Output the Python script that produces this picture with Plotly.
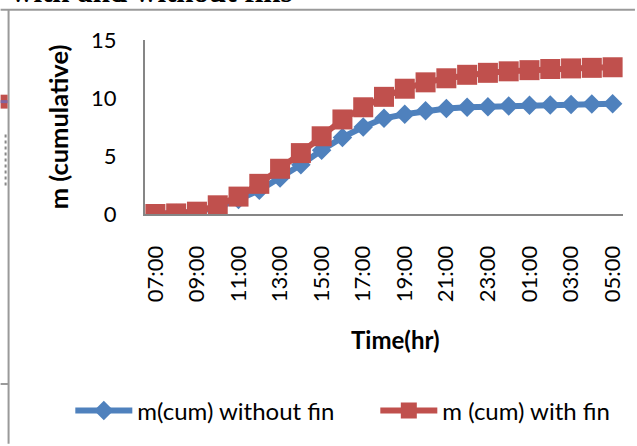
import plotly.graph_objects as go

# ---- data ----
time_labels = ["07:00", "08:00", "09:00", "10:00", "11:00", "12:00", "13:00", "14:00",
               "15:00", "16:00", "17:00", "18:00", "19:00", "20:00", "21:00", "22:00",
               "23:00", "00:00", "01:00", "02:00", "03:00", "04:00", "05:00"]
m_without_fin = [0.0, 0.05, 0.2, 0.6, 1.25, 2.05, 3.1, 4.25, 5.5, 6.6, 7.5, 8.25,
                 8.6, 8.9, 9.1, 9.2, 9.25, 9.3, 9.37, 9.4, 9.45, 9.48, 9.5]
m_with_fin = [0.0, 0.05, 0.2, 0.75, 1.5, 2.6, 3.9, 5.25, 6.7, 8.15, 9.2, 10.1,
              10.8, 11.35, 11.7, 12.0, 12.17, 12.3, 12.4, 12.5, 12.55, 12.6, 12.65]
tick_labels = time_labels[::2]
y_ticks = [0, 5, 10, 15]

# ---- layout geometry (pixels) ----
W, H = 637, 446
L, R, T, B = 145, 12, 40, 231
PW, PH = W - L - R, H - T - B
BOTTOM = T + PH


def px_x(px):
    return (px - L) / PW


def px_y(py):
    return (BOTTOM - py) / PH


BLUE = "#4F81BD"
RED = "#C0504D"
AXIS = "#868686"
FONT = "Lato"

fig = go.Figure()
fig.add_trace(go.Scatter(
    x=time_labels, y=m_without_fin, name="m(cum) without fin",
    mode="lines+markers",
    line=dict(color=BLUE, width=6),
    marker=dict(symbol="diamond", size=15, color=BLUE),
    legendwidth=233,
))
fig.add_trace(go.Scatter(
    x=time_labels, y=m_with_fin, name="m (cum) with fin",
    mode="lines+markers",
    line=dict(color=RED, width=6),
    marker=dict(symbol="square", size=20, color=RED),
))

fig.update_layout(
    width=W, height=H, autosize=False,
    margin=dict(l=L, r=R, t=T, b=B, pad=0),
    paper_bgcolor="white", plot_bgcolor="white",
    font=dict(family=FONT, color="black"),
    showlegend=True,
    legend=dict(
        orientation="h", x=px_x(70), xanchor="left", y=px_y(413), yanchor="middle",
        font=dict(family=FONT, size=24, color="black"),
        itemwidth=57, bgcolor="rgba(0,0,0,0)",
    ),
    xaxis=dict(
        type="category", range=[-0.5, len(time_labels) - 0.5],
        tickmode="array", tickvals=tick_labels, ticktext=tick_labels,
        tickangle=-90, tickfont=dict(family=FONT, size=22, color="black"),
        showline=True, linecolor=AXIS, linewidth=2, showgrid=False, zeroline=False,
        ticks="", ticklabelstandoff=21,
    ),
    yaxis=dict(
        range=[0, 15], tickvals=y_ticks,
        tickfont=dict(family=FONT, size=22, color="black"),
        showline=True, linecolor=AXIS, linewidth=2, showgrid=False, zeroline=False,
        ticks="", ticklabelstandoff=22,
    ),
    annotations=[
        dict(text="m (cumulative)", xref="paper", yref="paper", x=px_x(58), y=0.5,
             xanchor="center", yanchor="middle", textangle=-90, showarrow=False,
             font=dict(family=FONT, size=25.5, color="black", weight="bold")),
        dict(text="Time(hr)", xref="paper", yref="paper", x=px_x(397), y=px_y(341),
             xanchor="center", yanchor="middle", showarrow=False,
             font=dict(family=FONT, size=24, color="black", weight="bold")),
        dict(text="with and without fins", xref="paper", yref="paper",
             x=px_x(8), y=px_y(11), xanchor="left", yanchor="bottom", showarrow=False,
             font=dict(family="Liberation Serif", size=31, color="black", weight="bold")),
    ],
    shapes=[
        dict(type="line", xref="paper", yref="paper", x0=px_x(0), x1=px_x(W),
             y0=px_y(9.5), y1=px_y(9.5), line=dict(color="#9a9a9a", width=2)),
        dict(type="line", xref="paper", yref="paper", x0=px_x(8), x1=px_x(8),
             y0=px_y(9.5), y1=px_y(H), line=dict(color="#9a9a9a", width=2)),
        dict(type="line", xref="paper", yref="paper", x0=px_x(0), x1=px_x(8),
             y0=px_y(386), y1=px_y(386), line=dict(color="#9a9a9a", width=2)),
        dict(type="rect", xref="paper", yref="paper", x0=px_x(0), x1=px_x(7),
             y0=px_y(109), y1=px_y(95), fillcolor=RED, line=dict(width=0)),
        dict(type="line", xref="paper", yref="paper", x0=px_x(0), x1=px_x(7),
             y0=px_y(102), y1=px_y(102), line=dict(color="#8064A2", width=3)),
        dict(type="line", xref="paper", yref="paper", x0=px_x(5), x1=px_x(5),
             y0=px_y(135), y1=px_y(187), line=dict(color="#888888", width=2, dash="dot")),
    ],
)

fig.write_html("out.html")
